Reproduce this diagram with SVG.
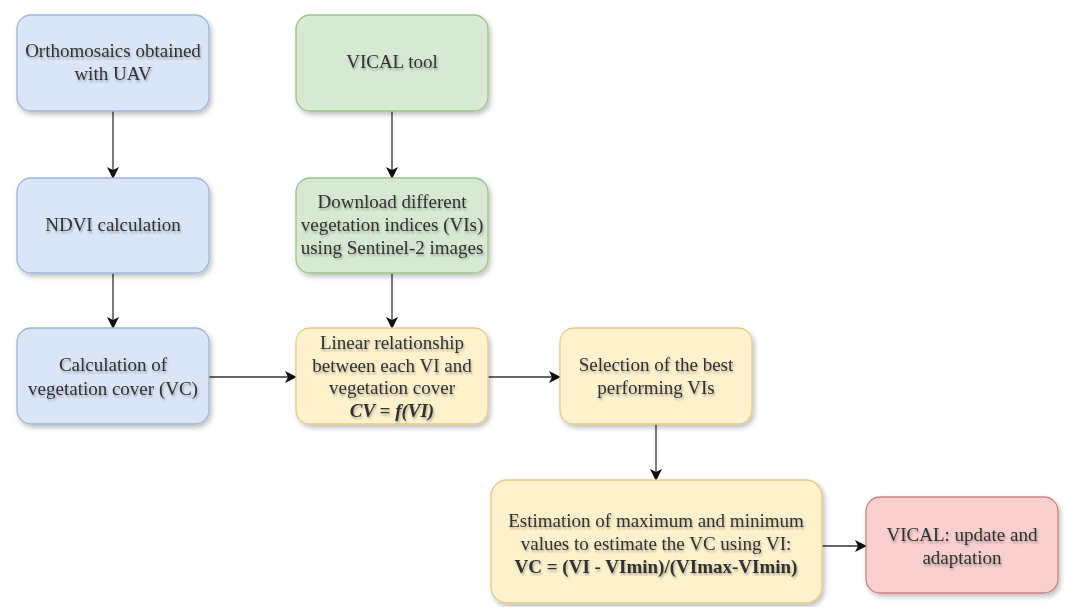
<svg xmlns="http://www.w3.org/2000/svg" width="1066" height="607" viewBox="0 0 1066 607">
  <style>
    .box { stroke-width: 1.3; filter: url(#shadow); }
    .blue { fill: #dae6f7; stroke: #9fb6d8; }
    .green { fill: #d7e9d3; stroke: #9cc48a; }
    .yellow { fill: #fdf1cd; stroke: #e2cc86; }
    .red { fill: #f6cfce; stroke: #c98584; }
    text { font-family: "Liberation Serif", "Times New Roman", serif; font-size: 19px; fill: #333; text-anchor: middle; filter: url(#tshadow); }
    .it { font-style: italic; font-weight: bold; }
    .bd { font-weight: bold; }
    .conn { stroke: #333; stroke-width: 1.3; fill: none; marker-end: url(#arrow); }
  </style>
  <defs>
    <filter id="shadow" x="-10%" y="-10%" width="130%" height="140%">
      <feDropShadow dx="2" dy="3" stdDeviation="2.5" flood-color="#000" flood-opacity="0.25"/>
    </filter>
    <filter id="tshadow" x="-5%" y="-20%" width="110%" height="160%">
      <feDropShadow dx="1" dy="2" stdDeviation="1" flood-color="#000" flood-opacity="0.3"/>
    </filter>
    <marker id="arrow" markerUnits="userSpaceOnUse" markerWidth="12" markerHeight="12" viewBox="0 0 12 12" refX="11" refY="6" orient="auto">
      <path d="M0,0 L12,6 L0,12 L3,6 z" fill="#111"/>
    </marker>
  </defs>
  <rect width="1066" height="607" fill="#fff"/>

  <g id="connectors">
    <line class="conn" x1="113" y1="111" x2="113" y2="178"/>
    <line class="conn" x1="392" y1="111" x2="392" y2="178"/>
    <line class="conn" x1="113" y1="273" x2="113" y2="328"/>
    <line class="conn" x1="392" y1="273" x2="392" y2="328"/>
    <line class="conn" x1="209" y1="377" x2="296" y2="377"/>
    <line class="conn" x1="488" y1="377" x2="560" y2="377"/>
    <line class="conn" x1="656" y1="424" x2="656" y2="480"/>
    <line class="conn" x1="822" y1="546" x2="866" y2="546"/>
  </g>

  <g id="orthomosaics">
    <rect class="box blue" x="17" y="15" width="192" height="96" rx="14"/>
    <text x="113" y="57">Orthomosaics obtained</text>
    <text x="113" y="80">with UAV</text>
  </g>

  <g id="vical-tool">
    <rect class="box green" x="296" y="15" width="192" height="96" rx="14"/>
    <text x="392" y="68">VICAL tool</text>
  </g>

  <g id="ndvi">
    <rect class="box blue" x="17" y="178" width="192" height="95" rx="14"/>
    <text x="113" y="231">NDVI calculation</text>
  </g>

  <g id="download">
    <rect class="box green" x="296" y="178" width="192" height="95" rx="14"/>
    <text x="392" y="208">Download different</text>
    <text x="392" y="231">vegetation indices (VIs)</text>
    <text x="392" y="254">using Sentinel-2 images</text>
  </g>

  <g id="calc-vc">
    <rect class="box blue" x="17" y="328" width="192" height="96" rx="14"/>
    <text x="113" y="371">Calculation of</text>
    <text x="113" y="395">vegetation cover (VC)</text>
  </g>

  <g id="linear">
    <rect class="box yellow" x="296" y="328" width="192" height="96" rx="14"/>
    <text x="392" y="349">Linear relationship</text>
    <text x="392" y="372">between each VI and</text>
    <text x="392" y="394">vegetation cover</text>
    <text x="392" y="417" class="it">CV = f(VI)</text>
  </g>

  <g id="selection">
    <rect class="box yellow" x="560" y="328" width="192" height="96" rx="14"/>
    <text x="656" y="371">Selection of the best</text>
    <text x="656" y="394">performing VIs</text>
  </g>

  <g id="estimation">
    <rect class="box yellow" x="491" y="480" width="331" height="123" rx="16"/>
    <text x="656" y="527">Estimation of maximum and minimum</text>
    <text x="656" y="550">values to estimate the VC using VI:</text>
    <text x="656" y="573" class="bd">VC = (VI - VImin)/(VImax-VImin)</text>
  </g>

  <g id="vical-update">
    <rect class="box red" x="866" y="497" width="192" height="96" rx="14"/>
    <text x="962" y="541">VICAL: update and</text>
    <text x="962" y="564">adaptation</text>
  </g>
</svg>
